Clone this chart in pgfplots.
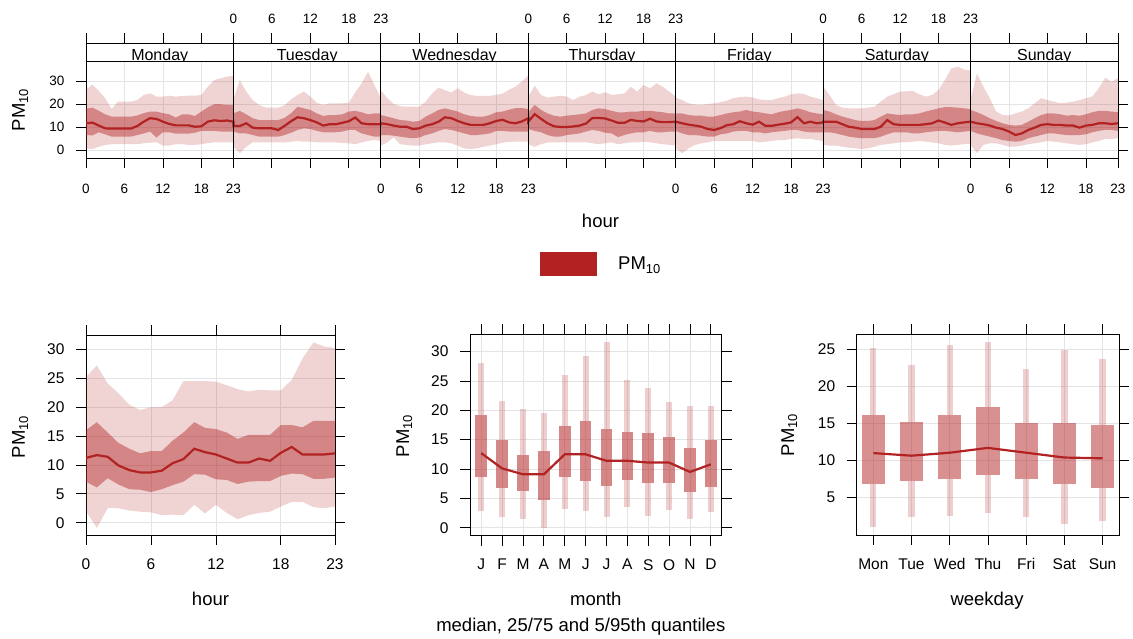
\documentclass[border=0pt]{standalone}
\usepackage{fontspec}
\setmainfont{Liberation Sans}
\usepackage{pgfplots}
\pgfplotsset{compat=1.18}
\usepackage{pgfplotstable}
\usepgfplotslibrary{fillbetween}

\definecolor{fb}{RGB}{178,34,34}
\definecolor{gridc}{RGB}{228,228,228}

\newcommand\fTick{\fontsize{13.5}{15}\selectfont}
\newcommand\fTickB{\fontsize{15.5}{17}\selectfont}
\newcommand\fStrip{\fontsize{16}{18}\selectfont}
\newcommand\fLab{\fontsize{18.5}{21}\selectfont}
\newcommand\pmten{PM\textsubscript{10}}

% hour x weekday quantiles (d = 0 Monday ... 6 Sunday)
\pgfplotstableread{
d h q05 q25 q50 q75 q95
0 0 0.7 6.5 11.6 18 26.1
0 1 0.4 6.3 11.9 18.4 28.5
0 2 1.4 7.7 10.6 17 25.7
0 3 2.2 6.8 9.4 15.5 22.5
0 4 2.5 5.8 9.3 14.5 17.8
0 5 2.5 5.8 9.3 14.5 21
0 6 2.5 5.8 9.3 14.5 21
0 7 2.5 5.8 9.3 14.5 21
0 8 2.5 6.5 10.4 15 21.7
0 9 2.9 7.2 12.3 16 23.9
0 10 3.2 8 13.8 16.7 24.6
0 11 3.3 5.4 13.5 16.7 23.2
0 12 1.9 7.7 12.3 16 23.2
0 13 1.9 7.7 11.3 15.5 23.6
0 14 2.5 7.1 10.7 14.1 23.2
0 15 2.5 7.1 10.7 15.5 23.5
0 16 2.2 7.1 10.7 15.5 23.6
0 17 2.2 7.5 10.1 14.8 23.6
0 18 2.5 8.3 10.3 16.7 23.9
0 19 3 8.3 12.3 18.5 27.5
0 20 3.3 8.3 12.9 19.9 30.4
0 21 3.3 8 12.6 19.9 31.2
0 22 3.3 8 12.8 19.6 31.9
0 23 3.3 8 12.3 19.6 32.2
1 0 1.4 8 10.4 15.9 22
1 1 -1.4 7.2 10.4 17 30.4
1 2 1.4 7.2 11.6 15.5 25.4
1 3 3.3 6.5 9.7 13.8 21.7
1 4 3.3 5.8 9.4 13 19.6
1 5 3.3 5.8 9.4 13 18.4
1 6 3.3 5.8 9.4 13 18.4
1 7 3.3 5.8 8.7 13 18.4
1 8 3.3 6.5 10.5 14 19.5
1 9 3.6 7.5 12.5 16 22
1 10 3.9 8.7 14.2 18.8 23.9
1 11 3.6 9.4 13.8 18.1 25.4
1 12 3.6 9.1 13 17.4 23.2
1 13 3.3 8.3 12 15.9 20.5
1 14 3.3 7.7 10.6 14.8 19.6
1 15 3.3 7.7 11.2 15.2 20.3
1 16 3.3 7.7 11.2 15.2 20.3
1 17 3 8 11.8 15.5 20.3
1 18 2.9 8.7 12.5 16.7 20.5
1 19 2.5 8.7 14.1 17 25
1 20 3.3 7.2 11.6 16.4 29
1 21 3.9 6.5 11.2 15.5 34
1 22 4.3 5.8 11.2 15.9 28.3
1 23 3.9 5.8 11.2 15.9 22.5
2 0 1.9 6.5 11.6 15.2 26
2 1 3.3 6.5 11.2 14.5 22.5
2 2 5.5 6.2 10.6 13.8 20
2 3 2.5 5.8 10.1 13 19
2 4 2.2 5.4 10.1 12.8 18.8
2 5 1.9 5.1 9.1 12.3 18.8
2 6 1.9 5.4 9.4 12.6 18.8
2 7 2.5 6.5 10.6 14.5 21
2 8 2.9 7.2 11.2 15.9 24.6
2 9 3.3 8.3 12.3 17.4 27.1
2 10 3.3 9.1 14.2 18.1 26
2 11 2.9 8.7 13.8 17.4 25
2 12 1.9 8 12.6 16.7 26.8
2 13 0.7 7.2 11.6 15.5 25
2 14 0.4 6.5 10.9 14.8 23.9
2 15 0.7 6.5 10.9 14.5 23.5
2 16 1.4 6.8 10.9 14.5 23.5
2 17 1.9 7.2 11.6 15.2 23.5
2 18 2.5 8.3 12.6 16.4 24
2 19 3.2 8.3 13.1 16.7 24.5
2 20 3.5 8 12 17.5 26.2
2 21 3.6 8 11.6 18.2 27.5
2 22 3.6 8 12.4 18.2 29.8
2 23 3.6 8 13.8 17.8 32.3
3 0 2.5 9.1 12.3 16.4 23.2
3 1 1.4 8.3 15.6 19.6 28
3 2 2.5 7.7 13.5 17.4 23.9
3 3 3.3 6.5 11.6 15.9 22.8
3 4 3.3 5.8 10.3 14.9 23.2
3 5 3.3 5.8 10 14.5 23.6
3 6 3.3 6.5 10 14.9 23.2
3 7 3.3 6.8 10.2 15.2 21.7
3 8 3.3 7.2 10.6 15.5 23.2
3 9 3.3 8 11.5 15.9 23.9
3 10 2.9 8.7 13.9 17.4 25.4
3 11 2.5 8.3 13.9 18.1 24.2
3 12 2.9 7.5 13.7 17.8 25.1
3 13 3.3 7.2 12.8 17 23.9
3 14 2.5 5.6 11.8 16.4 24.2
3 15 2.9 6.5 11.8 16.4 24.6
3 16 3.3 7.2 13.1 16.7 27.5
3 17 3.3 7.7 12.6 16.7 25.4
3 18 3.6 7.7 12.4 17 28.3
3 19 3.3 8.3 13.6 17 26.8
3 20 2.9 7.7 12.4 16.7 29
3 21 2.5 7.7 12.1 16.4 27.5
3 22 2.2 8 12.1 15.9 25.4
3 23 1.9 8 12.3 15.9 23.2
4 0 0.7 8.3 12.3 15.9 22.8
4 1 -1.4 7.2 11.6 15.9 21.7
4 2 0.7 6.5 11 15.2 20.3
4 3 2.2 6.5 10.6 14.9 19.8
4 4 2.9 6.2 10.1 14.9 19.6
4 5 3.3 5.8 9.1 14.5 20
4 6 3.9 5.8 8.7 14.5 20.3
4 7 3.9 6.8 9.5 15.2 20.8
4 8 3.9 7.2 10.8 15.9 21.5
4 9 3.9 8 11.2 16.4 22.5
4 10 3.9 8.3 12.5 16.7 23
4 11 3.9 8.3 11.6 17.4 23.2
4 12 3.9 7.7 11 16.7 22.8
4 13 3.3 7.7 12.3 16.4 22
4 14 3.6 7.2 10.5 15.9 21.7
4 15 3.9 7.7 10.5 15.5 21.7
4 16 4.3 8 11 16.4 22.5
4 17 4.3 8.3 11.4 17 23.2
4 18 4.8 8.7 12 17.4 24.2
4 19 5.1 8.7 14.3 18.1 24.6
4 20 4.8 8 11.6 17.4 24.4
4 21 4.8 7.7 12.3 16.4 23.2
4 22 4.3 7.7 11.6 15.9 22.5
4 23 3.9 7.7 12 15.5 21.7
5 0 2.2 7.7 12.3 17.4 27.5
5 1 1.9 7.7 12.3 16.7 23.9
5 2 1.9 7.2 12.3 15.5 19.6
5 3 1.4 6.5 11.2 14.5 18.4
5 4 1 5.8 10.1 13.8 18.1
5 5 0.7 5.4 9.7 13 18.1
5 6 0.4 5.1 9.1 12.6 18.1
5 7 0.7 5.1 9.1 12.6 18.4
5 8 1.4 5.1 9.1 13 18.8
5 9 2.2 5.8 10.1 14.5 21
5 10 2.5 6.8 13 15.9 23.2
5 11 2.9 7.7 11.2 15.5 24.2
5 12 3.3 7.7 10.9 15.2 25.4
5 13 3.3 7.7 10.9 15.5 25.5
5 14 3.6 7.2 10.9 15.5 25.7
5 15 3.9 7.2 10.9 15.9 24.2
5 16 3.6 7.7 11.2 16.7 23.2
5 17 3.3 8 11.6 17.4 23.9
5 18 2.9 8.3 12.8 18.1 26.1
5 19 2.2 8.3 11.9 18.6 30.4
5 20 1.9 8 10.9 18.6 35.5
5 21 2.2 7.7 11.6 18.4 36.2
5 22 2.5 8 12 18.1 35
5 23 2.5 8.3 12.3 17.8 34.5
6 0 2.2 8.3 12.3 17.4 22
6 1 -1.4 7.2 11.6 16.4 33.3
6 2 2.2 6.5 11.2 15.2 27.5
6 3 2.9 5.8 10.6 13.8 22.5
6 4 2.9 5.1 9.7 12.6 16.7
6 5 2.2 4.3 9.1 11.6 15.2
6 6 1.4 3.9 8 10.9 15
6 7 1.4 3.6 6.5 10.6 15.9
6 8 1.9 3.9 7.2 10.9 16.7
6 9 2.5 5.1 8.7 12.3 18.1
6 10 2.9 5.8 9.7 13.8 20.3
6 11 3.3 6.5 10.9 15.2 22.5
6 12 3.9 7.2 11.2 15.9 21.7
6 13 3.6 7.2 10.9 15.9 21
6 14 3.3 6.8 10.9 15.5 20.3
6 15 2.9 6.5 10.6 14.9 20.6
6 16 2.5 6.5 10.6 15.2 21
6 17 2.2 6.5 9.7 14.9 21.7
6 18 2.5 6.8 10.6 15.5 22.5
6 19 3.3 7.7 10.9 16.4 23.2
6 20 3.9 8.3 11.6 17 26.8
6 21 4.8 8.7 11.6 17 31.4
6 22 4.8 8.7 11.3 16.7 29.7
6 23 5.1 8.3 11.6 16.4 31.2
}\weekhour

\pgfplotstableread{
h q05 q25 q50 q75 q95
0 2.0 7.1 11.2 16.0 25.2
1 -0.9 6.1 11.7 17.4 27.2
2 2.5 7.7 11.4 15.6 24.1
3 2.5 6.6 9.9 13.8 22.4
4 2.1 5.8 9.1 12.8 20.4
5 1.9 5.7 8.7 12.0 19.5
6 1.8 5.3 8.7 12.4 20.0
7 1.3 5.8 9.0 12.4 20.0
8 1.4 6.5 10.3 14.2 21.2
9 1.3 7.1 11.0 15.6 24.5
10 3.1 8.4 12.8 17.4 24.5
11 1.6 8.3 12.2 16.4 24.5
12 3.1 7.5 11.8 16.2 24.4
13 1.7 7.4 11.1 15.6 23.8
14 0.6 6.7 10.4 14.5 23.1
15 1.3 7.1 10.4 15.2 22.7
16 1.7 7.2 11.1 15.2 23.0
17 1.9 7.2 10.7 15.2 22.9
18 2.8 8.1 12.1 16.9 22.9
19 3.6 8.5 13.1 16.9 24.7
20 3.6 8.4 11.8 16.5 28.4
21 2.7 7.6 11.8 17.6 31.2
22 2.5 7.6 11.8 17.6 30.5
23 2.8 7.8 12.0 17.6 30.2
}\hourtab

\pgfplotstableread{
m q05 q25 q50 q75 q95
1 2.9 8.6 12.7 19.2 28.0
2 1.8 6.7 10.1 14.9 21.6
3 1.5 6.3 9.1 12.4 20.3
4 0.0 4.7 9.1 13.1 19.5
5 3.2 8.6 12.5 17.3 26.0
6 2.9 8.0 12.5 18.2 29.3
7 1.8 7.1 11.4 16.9 31.6
8 3.5 8.1 11.4 16.3 25.2
9 2.0 7.6 11.1 16.1 23.8
10 3.0 7.7 11.1 15.5 21.4
11 1.5 6.0 9.5 13.5 20.7
12 2.6 6.9 10.8 14.9 20.7
}\monthtab

\pgfplotstableread{
w q05 q25 q50 q75 q95
1 1.1 6.9 11.0 16.1 25.2
2 2.4 7.2 10.65 15.2 22.8
3 2.6 7.5 11.05 16.1 25.5
4 2.9 8.0 11.7 17.2 25.9
5 2.4 7.5 11.05 15.1 22.3
6 1.4 6.8 10.4 15.0 24.9
7 1.8 6.3 10.3 14.8 23.7
}\daytab

\pgfplotsset{
  lat/.style={
    scale only axis, anchor=south west,
    axis line style={line width=0.8pt, black},
    tick style={line width=0.8pt, black},
    tick align=outside, major tick length=10pt,
    grid style={line width=0.8pt, gridc},
    xmajorgrids, ymajorgrids,
    yticklabel shift=8pt,
    /pgf/number format/assume math mode=true,
  },
}

\begin{document}
\begin{tikzpicture}[x=1pt, y=1pt]

% ---- top: hour by weekday ----
\begin{axis}[lat, at={(86pt,480pt)}, width=1032pt, height=97pt,
  xmin=0, xmax=161, ymin=-3.5, ymax=38.7,
  xtick={0,6,12,18,23,29,35,41,46,52,58,64,69,75,81,87,92,98,104,110,115,121,127,133,138,144,150,156,161},
  xticklabels={0,6,12,18,23,,,,0,6,12,18,23,,,,0,6,12,18,23,,,,0,6,12,18,23},
  xtick pos=left, ytick={0,10,20,30}, ytick pos=both, yticklabel pos=left,
  xticklabel shift=13pt,
  ticklabel style={font=\fTick}]
\addplot[draw=none, name path=a95] table[x expr=\thisrow{h}+23*\thisrow{d}, y=q95] {\weekhour};
\addplot[draw=none, name path=a05] table[x expr=\thisrow{h}+23*\thisrow{d}, y=q05] {\weekhour};
\addplot[draw=none, name path=a75] table[x expr=\thisrow{h}+23*\thisrow{d}, y=q75] {\weekhour};
\addplot[draw=none, name path=a25] table[x expr=\thisrow{h}+23*\thisrow{d}, y=q25] {\weekhour};
\addplot[fill=fb, fill opacity=0.2, draw=none] fill between[of=a95 and a05];
\addplot[fill=fb, fill opacity=0.44, draw=none] fill between[of=a75 and a25];
\addplot[fb, line width=2.2pt] table[x expr=\thisrow{h}+23*\thisrow{d}, y=q50] {\weekhour};
\pgfplotsinvokeforeach{23,46,69,92,115,138}{
  \draw[line width=0.8pt, black] (axis cs:#1,-3.5) -- (axis cs:#1,38.7);}
\end{axis}

% strips with day names
\begin{axis}[lat, at={(86pt,577pt)}, width=1032pt, height=18pt,
  xmin=0, xmax=161, ymin=0, ymax=1, ytick=\empty, xmajorgrids=false, ymajorgrids=false,
  xtick={0,6,12,18,23,29,35,41,46,52,58,64,69,75,81,87,92,98,104,110,115,121,127,133,138,144,150,156,161},
  xticklabels={,,,,0,6,12,18,23,,,,0,6,12,18,23,,,,0,6,12,18,23,,,,},
  xtick pos=right, xticklabel pos=right, xticklabel shift=6pt,
  ticklabel style={font=\fTick}]
\pgfplotsinvokeforeach{23,46,69,92,115,138}{
  \draw[line width=0.8pt, black] (axis cs:#1,0) -- (axis cs:#1,1);}
\node[font=\fStrip, anchor=base] at (axis cs:11.5,0.03) {Monday};
\node[font=\fStrip, anchor=base] at (axis cs:34.5,0.03) {Tuesday};
\node[font=\fStrip, anchor=base] at (axis cs:57.5,0.03) {Wednesday};
\node[font=\fStrip, anchor=base] at (axis cs:80.5,0.03) {Thursday};
\node[font=\fStrip, anchor=base] at (axis cs:103.5,0.03) {Friday};
\node[font=\fStrip, anchor=base] at (axis cs:126.5,0.03) {Saturday};
\node[font=\fStrip, anchor=base] at (axis cs:149.5,0.03) {Sunday};
\end{axis}

\node[font=\fLab, anchor=base] at (600.5pt,410pt) {hour};
\node[font=\fLab, rotate=90, anchor=base] at (25pt,528.3pt) {\pmten};
\fill[fb] (540pt,362pt) rectangle (597pt,386pt);
\node[font=\fLab, anchor=base west, inner sep=0pt] at (618pt,368pt) {\pmten};

% ---- bottom left: hour ----
\begin{axis}[lat, at={(86pt,103pt)}, width=249pt, height=200pt,
  xmin=0, xmax=23, ymin=-2.13, ymax=32.48,
  xtick={0,6,12,18,23}, ytick={0,5,...,30}, xticklabel shift=10pt,
  ticklabel style={font=\fTickB}]
\addplot[draw=none, name path=b95] table[x=h, y=q95] {\hourtab};
\addplot[draw=none, name path=b05] table[x=h, y=q05] {\hourtab};
\addplot[draw=none, name path=b75] table[x=h, y=q75] {\hourtab};
\addplot[draw=none, name path=b25] table[x=h, y=q25] {\hourtab};
\addplot[fill=fb, fill opacity=0.2, draw=none] fill between[of=b95 and b05];
\addplot[fill=fb, fill opacity=0.44, draw=none] fill between[of=b75 and b25];
\addplot[fb, line width=2.2pt] table[x=h, y=q50] {\hourtab};
\end{axis}
\node[font=\fLab, anchor=base] at (210.5pt,33pt) {hour};
\node[font=\fLab, rotate=90, anchor=base] at (25pt,201.3pt) {\pmten};

% ---- bottom middle: month ----
\begin{axis}[lat, at={(470pt,102.33pt)}, width=251.7pt, height=201.67pt,
  xmin=0.46, xmax=12.52, ymin=-1.36, ymax=33.01,
  xtick={1,...,12}, xticklabels={J,F,M,A,M,J,J,A,S,O,N,D},
  ytick={0,5,...,30}, unbounded coords=jump, xticklabel shift=10pt,
  ticklabel style={font=\fTickB}]
\addplot[draw=fb, draw opacity=0.22, line width=6pt] coordinates {
 (1,2.9)(1,8.6) (1,nan) (1,19.2)(1,28.0) (1,nan)
 (2,1.8)(2,6.7) (2,nan) (2,14.9)(2,21.6) (2,nan)
 (3,1.5)(3,6.3) (3,nan) (3,12.4)(3,20.3) (3,nan)
 (4,0.0)(4,4.7) (4,nan) (4,13.1)(4,19.5) (4,nan)
 (5,3.2)(5,8.6) (5,nan) (5,17.3)(5,26.0) (5,nan)
 (6,2.9)(6,8.0) (6,nan) (6,18.2)(6,29.3) (6,nan)
 (7,1.8)(7,7.1) (7,nan) (7,16.9)(7,31.6) (7,nan)
 (8,3.5)(8,8.1) (8,nan) (8,16.3)(8,25.2) (8,nan)
 (9,2.0)(9,7.6) (9,nan) (9,16.1)(9,23.8) (9,nan)
 (10,3.0)(10,7.7) (10,nan) (10,15.5)(10,21.4) (10,nan)
 (11,1.5)(11,6.0) (11,nan) (11,13.5)(11,20.7) (11,nan)
 (12,2.6)(12,6.9) (12,nan) (12,14.9)(12,20.7)};
\addplot[draw=fb, draw opacity=0.55, line width=11.7pt] coordinates {
 (1,8.6)(1,19.2) (1,nan) (2,6.7)(2,14.9) (2,nan) (3,6.3)(3,12.4) (3,nan)
 (4,4.7)(4,13.1) (4,nan) (5,8.6)(5,17.3) (5,nan) (6,8.0)(6,18.2) (6,nan)
 (7,7.1)(7,16.9) (7,nan) (8,8.1)(8,16.3) (8,nan) (9,7.6)(9,16.1) (9,nan)
 (10,7.7)(10,15.5) (10,nan) (11,6.0)(11,13.5) (11,nan) (12,6.9)(12,14.9)};
\addplot[fb, line width=2.2pt] table[x=m, y=q50] {\monthtab};
\end{axis}
\node[font=\fLab, anchor=base] at (595.8pt,33pt) {month};
\node[font=\fLab, anchor=base] at (580.8pt,7pt) {median, 25/75 and 5/95th quantiles};
\node[font=\fLab, rotate=90, anchor=base] at (409pt,202.2pt) {\pmten};

% ---- bottom right: weekday ----
\begin{axis}[lat, at={(856.7pt,103pt)}, width=262.3pt, height=201pt,
  xmin=0.565, xmax=7.43, ymin=-0.02, ymax=27.02,
  xtick={1,...,7}, xticklabels={Mon,Tue,Wed,Thu,Fri,Sat,Sun},
  ytick={5,10,...,25}, unbounded coords=jump, xticklabel shift=10pt,
  ticklabel style={font=\fTickB}]
\addplot[draw=fb, draw opacity=0.22, line width=6.3pt] coordinates {
 (1,1.1)(1,6.9) (1,nan) (1,16.1)(1,25.2) (1,nan)
 (2,2.4)(2,7.2) (2,nan) (2,15.2)(2,22.8) (2,nan)
 (3,2.6)(3,7.5) (3,nan) (3,16.1)(3,25.5) (3,nan)
 (4,2.9)(4,8.0) (4,nan) (4,17.2)(4,25.9) (4,nan)
 (5,2.4)(5,7.5) (5,nan) (5,15.1)(5,22.3) (5,nan)
 (6,1.4)(6,6.8) (6,nan) (6,15.0)(6,24.9) (6,nan)
 (7,1.8)(7,6.3) (7,nan) (7,14.8)(7,23.7)};
\addplot[draw=fb, draw opacity=0.5, line width=23.3pt] coordinates {
 (1,6.9)(1,16.1) (1,nan) (2,7.2)(2,15.2) (2,nan) (3,7.5)(3,16.1) (3,nan)
 (4,8.0)(4,17.2) (4,nan) (5,7.5)(5,15.1) (5,nan) (6,6.8)(6,15.0) (6,nan)
 (7,6.3)(7,14.8)};
\addplot[fb, line width=2.2pt] table[x=w, y=q50] {\daytab};
\end{axis}
\node[font=\fLab, anchor=base] at (987pt,33pt) {weekday};
\node[font=\fLab, rotate=90, anchor=base] at (794pt,203pt) {\pmten};

\pgfresetboundingbox
\path[use as bounding box] (0pt,0pt) rectangle (1133pt,638pt);
\end{tikzpicture}
\end{document}
